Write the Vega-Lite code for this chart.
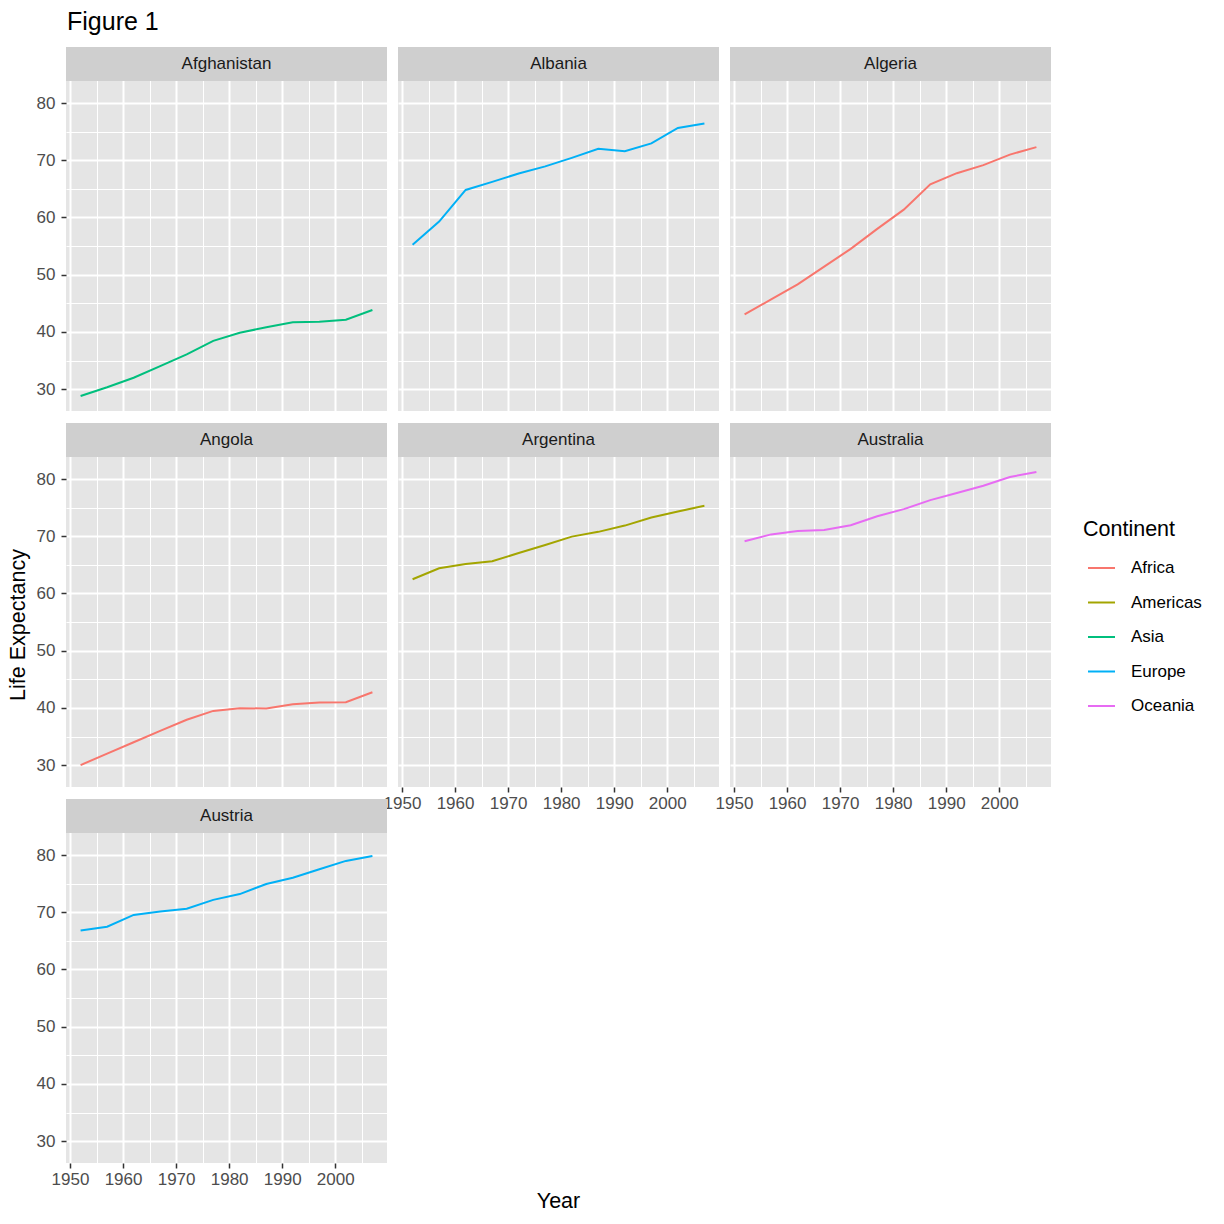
{
  "$schema": "https://vega.github.io/schema/vega-lite/v6.json",
  "padding": {"left": 7, "top": 10, "right": 0, "bottom": 0},
  "title": {"text": "Figure 1", "anchor": "start", "fontSize": 25, "fontWeight": "normal", "font": "Liberation Sans", "color": "#000000", "dx": 60, "offset": 12},
  "config": {
    "font": "Liberation Sans",
    "view": {"stroke": null},
    "axis": {"gridColor": "#FFFFFF", "domain": false, "tickColor": "#333333", "tickSize": 5, "tickWidth": 1.5, "labelFontSize": 17, "labelColor": "#4D4D4D", "labelFlush": false, "labelOverlap": false},
    "axisX": {"labelPadding": 3},
    "axisY": {"labelPadding": 6},
    "legend": {"titleFontWeight": "normal"}
  },
  "datasets": {
    "gap": [
      {"country": "Afghanistan", "continent": "Asia", "year": 1952, "lifeExp": 28.801},
      {"country": "Afghanistan", "continent": "Asia", "year": 1957, "lifeExp": 30.332},
      {"country": "Afghanistan", "continent": "Asia", "year": 1962, "lifeExp": 31.997},
      {"country": "Afghanistan", "continent": "Asia", "year": 1967, "lifeExp": 34.02},
      {"country": "Afghanistan", "continent": "Asia", "year": 1972, "lifeExp": 36.088},
      {"country": "Afghanistan", "continent": "Asia", "year": 1977, "lifeExp": 38.438},
      {"country": "Afghanistan", "continent": "Asia", "year": 1982, "lifeExp": 39.854},
      {"country": "Afghanistan", "continent": "Asia", "year": 1987, "lifeExp": 40.822},
      {"country": "Afghanistan", "continent": "Asia", "year": 1992, "lifeExp": 41.674},
      {"country": "Afghanistan", "continent": "Asia", "year": 1997, "lifeExp": 41.763},
      {"country": "Afghanistan", "continent": "Asia", "year": 2002, "lifeExp": 42.129},
      {"country": "Afghanistan", "continent": "Asia", "year": 2007, "lifeExp": 43.828},
      {"country": "Albania", "continent": "Europe", "year": 1952, "lifeExp": 55.23},
      {"country": "Albania", "continent": "Europe", "year": 1957, "lifeExp": 59.28},
      {"country": "Albania", "continent": "Europe", "year": 1962, "lifeExp": 64.82},
      {"country": "Albania", "continent": "Europe", "year": 1967, "lifeExp": 66.22},
      {"country": "Albania", "continent": "Europe", "year": 1972, "lifeExp": 67.69},
      {"country": "Albania", "continent": "Europe", "year": 1977, "lifeExp": 68.93},
      {"country": "Albania", "continent": "Europe", "year": 1982, "lifeExp": 70.42},
      {"country": "Albania", "continent": "Europe", "year": 1987, "lifeExp": 72.0},
      {"country": "Albania", "continent": "Europe", "year": 1992, "lifeExp": 71.581},
      {"country": "Albania", "continent": "Europe", "year": 1997, "lifeExp": 72.95},
      {"country": "Albania", "continent": "Europe", "year": 2002, "lifeExp": 75.651},
      {"country": "Albania", "continent": "Europe", "year": 2007, "lifeExp": 76.423},
      {"country": "Algeria", "continent": "Africa", "year": 1952, "lifeExp": 43.077},
      {"country": "Algeria", "continent": "Africa", "year": 1957, "lifeExp": 45.685},
      {"country": "Algeria", "continent": "Africa", "year": 1962, "lifeExp": 48.303},
      {"country": "Algeria", "continent": "Africa", "year": 1967, "lifeExp": 51.407},
      {"country": "Algeria", "continent": "Africa", "year": 1972, "lifeExp": 54.518},
      {"country": "Algeria", "continent": "Africa", "year": 1977, "lifeExp": 58.014},
      {"country": "Algeria", "continent": "Africa", "year": 1982, "lifeExp": 61.368},
      {"country": "Algeria", "continent": "Africa", "year": 1987, "lifeExp": 65.799},
      {"country": "Algeria", "continent": "Africa", "year": 1992, "lifeExp": 67.744},
      {"country": "Algeria", "continent": "Africa", "year": 1997, "lifeExp": 69.152},
      {"country": "Algeria", "continent": "Africa", "year": 2002, "lifeExp": 70.994},
      {"country": "Algeria", "continent": "Africa", "year": 2007, "lifeExp": 72.301},
      {"country": "Angola", "continent": "Africa", "year": 1952, "lifeExp": 30.015},
      {"country": "Angola", "continent": "Africa", "year": 1957, "lifeExp": 31.999},
      {"country": "Angola", "continent": "Africa", "year": 1962, "lifeExp": 34.0},
      {"country": "Angola", "continent": "Africa", "year": 1967, "lifeExp": 35.985},
      {"country": "Angola", "continent": "Africa", "year": 1972, "lifeExp": 37.928},
      {"country": "Angola", "continent": "Africa", "year": 1977, "lifeExp": 39.483},
      {"country": "Angola", "continent": "Africa", "year": 1982, "lifeExp": 39.942},
      {"country": "Angola", "continent": "Africa", "year": 1987, "lifeExp": 39.906},
      {"country": "Angola", "continent": "Africa", "year": 1992, "lifeExp": 40.647},
      {"country": "Angola", "continent": "Africa", "year": 1997, "lifeExp": 40.963},
      {"country": "Angola", "continent": "Africa", "year": 2002, "lifeExp": 41.003},
      {"country": "Angola", "continent": "Africa", "year": 2007, "lifeExp": 42.731},
      {"country": "Argentina", "continent": "Americas", "year": 1952, "lifeExp": 62.485},
      {"country": "Argentina", "continent": "Americas", "year": 1957, "lifeExp": 64.399},
      {"country": "Argentina", "continent": "Americas", "year": 1962, "lifeExp": 65.142},
      {"country": "Argentina", "continent": "Americas", "year": 1967, "lifeExp": 65.634},
      {"country": "Argentina", "continent": "Americas", "year": 1972, "lifeExp": 67.065},
      {"country": "Argentina", "continent": "Americas", "year": 1977, "lifeExp": 68.481},
      {"country": "Argentina", "continent": "Americas", "year": 1982, "lifeExp": 69.942},
      {"country": "Argentina", "continent": "Americas", "year": 1987, "lifeExp": 70.774},
      {"country": "Argentina", "continent": "Americas", "year": 1992, "lifeExp": 71.868},
      {"country": "Argentina", "continent": "Americas", "year": 1997, "lifeExp": 73.275},
      {"country": "Argentina", "continent": "Americas", "year": 2002, "lifeExp": 74.34},
      {"country": "Argentina", "continent": "Americas", "year": 2007, "lifeExp": 75.32},
      {"country": "Australia", "continent": "Oceania", "year": 1952, "lifeExp": 69.12},
      {"country": "Australia", "continent": "Oceania", "year": 1957, "lifeExp": 70.33},
      {"country": "Australia", "continent": "Oceania", "year": 1962, "lifeExp": 70.93},
      {"country": "Australia", "continent": "Oceania", "year": 1967, "lifeExp": 71.1},
      {"country": "Australia", "continent": "Oceania", "year": 1972, "lifeExp": 71.93},
      {"country": "Australia", "continent": "Oceania", "year": 1977, "lifeExp": 73.49},
      {"country": "Australia", "continent": "Oceania", "year": 1982, "lifeExp": 74.74},
      {"country": "Australia", "continent": "Oceania", "year": 1987, "lifeExp": 76.32},
      {"country": "Australia", "continent": "Oceania", "year": 1992, "lifeExp": 77.56},
      {"country": "Australia", "continent": "Oceania", "year": 1997, "lifeExp": 78.83},
      {"country": "Australia", "continent": "Oceania", "year": 2002, "lifeExp": 80.37},
      {"country": "Australia", "continent": "Oceania", "year": 2007, "lifeExp": 81.235},
      {"country": "Austria", "continent": "Europe", "year": 1952, "lifeExp": 66.8},
      {"country": "Austria", "continent": "Europe", "year": 1957, "lifeExp": 67.48},
      {"country": "Austria", "continent": "Europe", "year": 1962, "lifeExp": 69.54},
      {"country": "Austria", "continent": "Europe", "year": 1967, "lifeExp": 70.14},
      {"country": "Austria", "continent": "Europe", "year": 1972, "lifeExp": 70.63},
      {"country": "Austria", "continent": "Europe", "year": 1977, "lifeExp": 72.17},
      {"country": "Austria", "continent": "Europe", "year": 1982, "lifeExp": 73.18},
      {"country": "Austria", "continent": "Europe", "year": 1987, "lifeExp": 74.94},
      {"country": "Austria", "continent": "Europe", "year": 1992, "lifeExp": 76.04},
      {"country": "Austria", "continent": "Europe", "year": 1997, "lifeExp": 77.51},
      {"country": "Austria", "continent": "Europe", "year": 2002, "lifeExp": 78.98},
      {"country": "Austria", "continent": "Europe", "year": 2007, "lifeExp": 79.829}
    ],
    "ylab": [{"label": "Life Expectancy"}],
    "xlab": [{"label": "Year"}]
  },
  "spacing": 4,
  "vconcat": [
    {
      "spacing": 5,
      "hconcat": [
        {
          "data": {"name": "ylab"},
          "width": 24,
          "height": 1116,
          "view": {"fill": null, "stroke": null},
          "mark": {"type": "text", "angle": 270, "fontSize": 21.5, "color": "#000000", "align": "center", "baseline": "middle", "dx": -20},
          "encoding": {"text": {"field": "label", "type": "nominal"}}
        },
        {
          "data": {"name": "gap"},
          "columns": 3,
          "bounds": "flush",
          "spacing": {"row": 12, "column": 11},
          "concat": [
            {
              "transform": [{"filter": {"field": "country", "equal": "Afghanistan"}}],
              "width": 321, "height": 364,
              "view": {"fill": "#E5E5E5", "stroke": null},
              "resolve": {"axis": {"x": "independent", "y": "independent"}},
              "layer": [
                {"mark": {"type": "line", "strokeWidth": 2},
                 "encoding": {
                   "x": {"field": "year", "type": "quantitative", "scale": {"domain": [1949.25, 2009.75], "nice": false, "zero": false}, "axis": {"values": [1950, 1960, 1970, 1980, 1990, 2000], "title": null, "grid": true, "gridWidth": 2, "labels": false, "ticks": false}},
                   "y": {"field": "lifeExp", "type": "quantitative", "scale": {"domain": [26.1793, 89.7993], "nice": false, "zero": false}, "axis": {"values": [30, 40, 50, 60, 70, 80], "title": null, "grid": true, "gridWidth": 2}},
                   "color": {"field": "continent", "type": "nominal", "scale": {"domain": ["Africa", "Americas", "Asia", "Europe", "Oceania"], "range": ["#F8766D", "#A3A500", "#00BF7D", "#00B0F6", "#E76BF3"]}, "legend": {"title": "Continent", "orient": "none", "legendX": 1076, "legendY": 472, "titleFontSize": 21.5, "titleColor": "#000000", "titleFontWeight": "normal", "titlePadding": 13, "labelFontSize": 17, "labelColor": "#000000", "labelOffset": 15, "symbolType": "stroke", "symbolSize": 729, "symbolStrokeWidth": 2, "symbolOffset": 4, "rowPadding": 11.5, "padding": 0}}
                 }},
                {"transform": [{"aggregate": [{"op": "count", "as": "n"}], "groupby": ["country"]}],
                 "mark": {"type": "rect", "color": "#CFCFCF"},
                 "encoding": {
                   "x": {"datum": 1949.25, "type": "quantitative", "axis": {"values": [1955, 1965, 1975, 1985, 1995, 2005], "title": null, "grid": true, "gridWidth": 1, "labels": false, "ticks": false}},
                   "x2": {"datum": 2009.75},
                   "y": {"datum": 83.8567, "type": "quantitative", "axis": {"values": [35, 45, 55, 65, 75], "title": null, "grid": true, "gridWidth": 1, "labels": false, "ticks": false}},
                   "y2": {"datum": 89.7993}
                 }},
                {"transform": [{"aggregate": [{"op": "count", "as": "n"}], "groupby": ["country"]}],
                 "mark": {"type": "text", "fontSize": 17, "color": "#1A1A1A", "align": "center", "baseline": "middle"},
                 "encoding": {
                   "x": {"datum": 1979.5, "type": "quantitative", "axis": null},
                   "y": {"datum": 86.83, "type": "quantitative", "axis": null},
                   "text": {"field": "country", "type": "nominal"}
                 }}
              ]
            },
            {
              "transform": [{"filter": {"field": "country", "equal": "Albania"}}],
              "width": 321, "height": 364,
              "view": {"fill": "#E5E5E5", "stroke": null},
              "resolve": {"axis": {"x": "independent", "y": "independent"}},
              "layer": [
                {"mark": {"type": "line", "strokeWidth": 2},
                 "encoding": {
                   "x": {"field": "year", "type": "quantitative", "scale": {"domain": [1949.25, 2009.75], "nice": false, "zero": false}, "axis": {"values": [1950, 1960, 1970, 1980, 1990, 2000], "title": null, "grid": true, "gridWidth": 2, "labels": false, "ticks": false}},
                   "y": {"field": "lifeExp", "type": "quantitative", "scale": {"domain": [26.1793, 89.7993], "nice": false, "zero": false}, "axis": {"values": [30, 40, 50, 60, 70, 80], "title": null, "grid": true, "gridWidth": 2, "labels": false, "ticks": false}},
                   "color": {"field": "continent", "type": "nominal", "scale": {"domain": ["Africa", "Americas", "Asia", "Europe", "Oceania"], "range": ["#F8766D", "#A3A500", "#00BF7D", "#00B0F6", "#E76BF3"]}, "legend": {"title": "Continent", "orient": "none", "legendX": 1076, "legendY": 472, "titleFontSize": 21.5, "titleColor": "#000000", "titleFontWeight": "normal", "titlePadding": 13, "labelFontSize": 17, "labelColor": "#000000", "labelOffset": 15, "symbolType": "stroke", "symbolSize": 729, "symbolStrokeWidth": 2, "symbolOffset": 4, "rowPadding": 11.5, "padding": 0}}
                 }},
                {"transform": [{"aggregate": [{"op": "count", "as": "n"}], "groupby": ["country"]}],
                 "mark": {"type": "rect", "color": "#CFCFCF"},
                 "encoding": {
                   "x": {"datum": 1949.25, "type": "quantitative", "axis": {"values": [1955, 1965, 1975, 1985, 1995, 2005], "title": null, "grid": true, "gridWidth": 1, "labels": false, "ticks": false}},
                   "x2": {"datum": 2009.75},
                   "y": {"datum": 83.8567, "type": "quantitative", "axis": {"values": [35, 45, 55, 65, 75], "title": null, "grid": true, "gridWidth": 1, "labels": false, "ticks": false}},
                   "y2": {"datum": 89.7993}
                 }},
                {"transform": [{"aggregate": [{"op": "count", "as": "n"}], "groupby": ["country"]}],
                 "mark": {"type": "text", "fontSize": 17, "color": "#1A1A1A", "align": "center", "baseline": "middle"},
                 "encoding": {
                   "x": {"datum": 1979.5, "type": "quantitative", "axis": null},
                   "y": {"datum": 86.83, "type": "quantitative", "axis": null},
                   "text": {"field": "country", "type": "nominal"}
                 }}
              ]
            },
            {
              "transform": [{"filter": {"field": "country", "equal": "Algeria"}}],
              "width": 321, "height": 364,
              "view": {"fill": "#E5E5E5", "stroke": null},
              "resolve": {"axis": {"x": "independent", "y": "independent"}},
              "layer": [
                {"mark": {"type": "line", "strokeWidth": 2},
                 "encoding": {
                   "x": {"field": "year", "type": "quantitative", "scale": {"domain": [1949.25, 2009.75], "nice": false, "zero": false}, "axis": {"values": [1950, 1960, 1970, 1980, 1990, 2000], "title": null, "grid": true, "gridWidth": 2, "labels": false, "ticks": false}},
                   "y": {"field": "lifeExp", "type": "quantitative", "scale": {"domain": [26.1793, 89.7993], "nice": false, "zero": false}, "axis": {"values": [30, 40, 50, 60, 70, 80], "title": null, "grid": true, "gridWidth": 2, "labels": false, "ticks": false}},
                   "color": {"field": "continent", "type": "nominal", "scale": {"domain": ["Africa", "Americas", "Asia", "Europe", "Oceania"], "range": ["#F8766D", "#A3A500", "#00BF7D", "#00B0F6", "#E76BF3"]}, "legend": {"title": "Continent", "orient": "none", "legendX": 1076, "legendY": 472, "titleFontSize": 21.5, "titleColor": "#000000", "titleFontWeight": "normal", "titlePadding": 13, "labelFontSize": 17, "labelColor": "#000000", "labelOffset": 15, "symbolType": "stroke", "symbolSize": 729, "symbolStrokeWidth": 2, "symbolOffset": 4, "rowPadding": 11.5, "padding": 0}}
                 }},
                {"transform": [{"aggregate": [{"op": "count", "as": "n"}], "groupby": ["country"]}],
                 "mark": {"type": "rect", "color": "#CFCFCF"},
                 "encoding": {
                   "x": {"datum": 1949.25, "type": "quantitative", "axis": {"values": [1955, 1965, 1975, 1985, 1995, 2005], "title": null, "grid": true, "gridWidth": 1, "labels": false, "ticks": false}},
                   "x2": {"datum": 2009.75},
                   "y": {"datum": 83.8567, "type": "quantitative", "axis": {"values": [35, 45, 55, 65, 75], "title": null, "grid": true, "gridWidth": 1, "labels": false, "ticks": false}},
                   "y2": {"datum": 89.7993}
                 }},
                {"transform": [{"aggregate": [{"op": "count", "as": "n"}], "groupby": ["country"]}],
                 "mark": {"type": "text", "fontSize": 17, "color": "#1A1A1A", "align": "center", "baseline": "middle"},
                 "encoding": {
                   "x": {"datum": 1979.5, "type": "quantitative", "axis": null},
                   "y": {"datum": 86.83, "type": "quantitative", "axis": null},
                   "text": {"field": "country", "type": "nominal"}
                 }}
              ]
            },
            {
              "transform": [{"filter": {"field": "country", "equal": "Angola"}}],
              "width": 321, "height": 364,
              "view": {"fill": "#E5E5E5", "stroke": null},
              "resolve": {"axis": {"x": "independent", "y": "independent"}},
              "layer": [
                {"mark": {"type": "line", "strokeWidth": 2},
                 "encoding": {
                   "x": {"field": "year", "type": "quantitative", "scale": {"domain": [1949.25, 2009.75], "nice": false, "zero": false}, "axis": {"values": [1950, 1960, 1970, 1980, 1990, 2000], "title": null, "grid": true, "gridWidth": 2, "labels": false, "ticks": false}},
                   "y": {"field": "lifeExp", "type": "quantitative", "scale": {"domain": [26.1793, 89.7993], "nice": false, "zero": false}, "axis": {"values": [30, 40, 50, 60, 70, 80], "title": null, "grid": true, "gridWidth": 2}},
                   "color": {"field": "continent", "type": "nominal", "scale": {"domain": ["Africa", "Americas", "Asia", "Europe", "Oceania"], "range": ["#F8766D", "#A3A500", "#00BF7D", "#00B0F6", "#E76BF3"]}, "legend": {"title": "Continent", "orient": "none", "legendX": 1076, "legendY": 472, "titleFontSize": 21.5, "titleColor": "#000000", "titleFontWeight": "normal", "titlePadding": 13, "labelFontSize": 17, "labelColor": "#000000", "labelOffset": 15, "symbolType": "stroke", "symbolSize": 729, "symbolStrokeWidth": 2, "symbolOffset": 4, "rowPadding": 11.5, "padding": 0}}
                 }},
                {"transform": [{"aggregate": [{"op": "count", "as": "n"}], "groupby": ["country"]}],
                 "mark": {"type": "rect", "color": "#CFCFCF"},
                 "encoding": {
                   "x": {"datum": 1949.25, "type": "quantitative", "axis": {"values": [1955, 1965, 1975, 1985, 1995, 2005], "title": null, "grid": true, "gridWidth": 1, "labels": false, "ticks": false}},
                   "x2": {"datum": 2009.75},
                   "y": {"datum": 83.8567, "type": "quantitative", "axis": {"values": [35, 45, 55, 65, 75], "title": null, "grid": true, "gridWidth": 1, "labels": false, "ticks": false}},
                   "y2": {"datum": 89.7993}
                 }},
                {"transform": [{"aggregate": [{"op": "count", "as": "n"}], "groupby": ["country"]}],
                 "mark": {"type": "text", "fontSize": 17, "color": "#1A1A1A", "align": "center", "baseline": "middle"},
                 "encoding": {
                   "x": {"datum": 1979.5, "type": "quantitative", "axis": null},
                   "y": {"datum": 86.83, "type": "quantitative", "axis": null},
                   "text": {"field": "country", "type": "nominal"}
                 }}
              ]
            },
            {
              "transform": [{"filter": {"field": "country", "equal": "Argentina"}}],
              "width": 321, "height": 364,
              "view": {"fill": "#E5E5E5", "stroke": null},
              "resolve": {"axis": {"x": "independent", "y": "independent"}},
              "layer": [
                {"mark": {"type": "line", "strokeWidth": 2},
                 "encoding": {
                   "x": {"field": "year", "type": "quantitative", "scale": {"domain": [1949.25, 2009.75], "nice": false, "zero": false}, "axis": {"values": [1950, 1960, 1970, 1980, 1990, 2000], "title": null, "grid": true, "gridWidth": 2, "format": "d"}},
                   "y": {"field": "lifeExp", "type": "quantitative", "scale": {"domain": [26.1793, 89.7993], "nice": false, "zero": false}, "axis": {"values": [30, 40, 50, 60, 70, 80], "title": null, "grid": true, "gridWidth": 2, "labels": false, "ticks": false}},
                   "color": {"field": "continent", "type": "nominal", "scale": {"domain": ["Africa", "Americas", "Asia", "Europe", "Oceania"], "range": ["#F8766D", "#A3A500", "#00BF7D", "#00B0F6", "#E76BF3"]}, "legend": {"title": "Continent", "orient": "none", "legendX": 1076, "legendY": 472, "titleFontSize": 21.5, "titleColor": "#000000", "titleFontWeight": "normal", "titlePadding": 13, "labelFontSize": 17, "labelColor": "#000000", "labelOffset": 15, "symbolType": "stroke", "symbolSize": 729, "symbolStrokeWidth": 2, "symbolOffset": 4, "rowPadding": 11.5, "padding": 0}}
                 }},
                {"transform": [{"aggregate": [{"op": "count", "as": "n"}], "groupby": ["country"]}],
                 "mark": {"type": "rect", "color": "#CFCFCF"},
                 "encoding": {
                   "x": {"datum": 1949.25, "type": "quantitative", "axis": {"values": [1955, 1965, 1975, 1985, 1995, 2005], "title": null, "grid": true, "gridWidth": 1, "labels": false, "ticks": false}},
                   "x2": {"datum": 2009.75},
                   "y": {"datum": 83.8567, "type": "quantitative", "axis": {"values": [35, 45, 55, 65, 75], "title": null, "grid": true, "gridWidth": 1, "labels": false, "ticks": false}},
                   "y2": {"datum": 89.7993}
                 }},
                {"transform": [{"aggregate": [{"op": "count", "as": "n"}], "groupby": ["country"]}],
                 "mark": {"type": "text", "fontSize": 17, "color": "#1A1A1A", "align": "center", "baseline": "middle"},
                 "encoding": {
                   "x": {"datum": 1979.5, "type": "quantitative", "axis": null},
                   "y": {"datum": 86.83, "type": "quantitative", "axis": null},
                   "text": {"field": "country", "type": "nominal"}
                 }}
              ]
            },
            {
              "transform": [{"filter": {"field": "country", "equal": "Australia"}}],
              "width": 321, "height": 364,
              "view": {"fill": "#E5E5E5", "stroke": null},
              "resolve": {"axis": {"x": "independent", "y": "independent"}},
              "layer": [
                {"mark": {"type": "line", "strokeWidth": 2},
                 "encoding": {
                   "x": {"field": "year", "type": "quantitative", "scale": {"domain": [1949.25, 2009.75], "nice": false, "zero": false}, "axis": {"values": [1950, 1960, 1970, 1980, 1990, 2000], "title": null, "grid": true, "gridWidth": 2, "format": "d"}},
                   "y": {"field": "lifeExp", "type": "quantitative", "scale": {"domain": [26.1793, 89.7993], "nice": false, "zero": false}, "axis": {"values": [30, 40, 50, 60, 70, 80], "title": null, "grid": true, "gridWidth": 2, "labels": false, "ticks": false}},
                   "color": {"field": "continent", "type": "nominal", "scale": {"domain": ["Africa", "Americas", "Asia", "Europe", "Oceania"], "range": ["#F8766D", "#A3A500", "#00BF7D", "#00B0F6", "#E76BF3"]}, "legend": {"title": "Continent", "orient": "none", "legendX": 1076, "legendY": 472, "titleFontSize": 21.5, "titleColor": "#000000", "titleFontWeight": "normal", "titlePadding": 13, "labelFontSize": 17, "labelColor": "#000000", "labelOffset": 15, "symbolType": "stroke", "symbolSize": 729, "symbolStrokeWidth": 2, "symbolOffset": 4, "rowPadding": 11.5, "padding": 0}}
                 }},
                {"transform": [{"aggregate": [{"op": "count", "as": "n"}], "groupby": ["country"]}],
                 "mark": {"type": "rect", "color": "#CFCFCF"},
                 "encoding": {
                   "x": {"datum": 1949.25, "type": "quantitative", "axis": {"values": [1955, 1965, 1975, 1985, 1995, 2005], "title": null, "grid": true, "gridWidth": 1, "labels": false, "ticks": false}},
                   "x2": {"datum": 2009.75},
                   "y": {"datum": 83.8567, "type": "quantitative", "axis": {"values": [35, 45, 55, 65, 75], "title": null, "grid": true, "gridWidth": 1, "labels": false, "ticks": false}},
                   "y2": {"datum": 89.7993}
                 }},
                {"transform": [{"aggregate": [{"op": "count", "as": "n"}], "groupby": ["country"]}],
                 "mark": {"type": "text", "fontSize": 17, "color": "#1A1A1A", "align": "center", "baseline": "middle"},
                 "encoding": {
                   "x": {"datum": 1979.5, "type": "quantitative", "axis": null},
                   "y": {"datum": 86.83, "type": "quantitative", "axis": null},
                   "text": {"field": "country", "type": "nominal"}
                 }}
              ]
            },
            {
              "transform": [{"filter": {"field": "country", "equal": "Austria"}}],
              "width": 321, "height": 364,
              "view": {"fill": "#E5E5E5", "stroke": null},
              "resolve": {"axis": {"x": "independent", "y": "independent"}},
              "layer": [
                {"mark": {"type": "line", "strokeWidth": 2},
                 "encoding": {
                   "x": {"field": "year", "type": "quantitative", "scale": {"domain": [1949.25, 2009.75], "nice": false, "zero": false}, "axis": {"values": [1950, 1960, 1970, 1980, 1990, 2000], "title": null, "grid": true, "gridWidth": 2, "format": "d"}},
                   "y": {"field": "lifeExp", "type": "quantitative", "scale": {"domain": [26.1793, 89.7993], "nice": false, "zero": false}, "axis": {"values": [30, 40, 50, 60, 70, 80], "title": null, "grid": true, "gridWidth": 2}},
                   "color": {"field": "continent", "type": "nominal", "scale": {"domain": ["Africa", "Americas", "Asia", "Europe", "Oceania"], "range": ["#F8766D", "#A3A500", "#00BF7D", "#00B0F6", "#E76BF3"]}, "legend": {"title": "Continent", "orient": "none", "legendX": 1076, "legendY": 472, "titleFontSize": 21.5, "titleColor": "#000000", "titleFontWeight": "normal", "titlePadding": 13, "labelFontSize": 17, "labelColor": "#000000", "labelOffset": 15, "symbolType": "stroke", "symbolSize": 729, "symbolStrokeWidth": 2, "symbolOffset": 4, "rowPadding": 11.5, "padding": 0}}
                 }},
                {"transform": [{"aggregate": [{"op": "count", "as": "n"}], "groupby": ["country"]}],
                 "mark": {"type": "rect", "color": "#CFCFCF"},
                 "encoding": {
                   "x": {"datum": 1949.25, "type": "quantitative", "axis": {"values": [1955, 1965, 1975, 1985, 1995, 2005], "title": null, "grid": true, "gridWidth": 1, "labels": false, "ticks": false}},
                   "x2": {"datum": 2009.75},
                   "y": {"datum": 83.8567, "type": "quantitative", "axis": {"values": [35, 45, 55, 65, 75], "title": null, "grid": true, "gridWidth": 1, "labels": false, "ticks": false}},
                   "y2": {"datum": 89.7993}
                 }},
                {"transform": [{"aggregate": [{"op": "count", "as": "n"}], "groupby": ["country"]}],
                 "mark": {"type": "text", "fontSize": 17, "color": "#1A1A1A", "align": "center", "baseline": "middle"},
                 "encoding": {
                   "x": {"datum": 1979.5, "type": "quantitative", "axis": null},
                   "y": {"datum": 86.83, "type": "quantitative", "axis": null},
                   "text": {"field": "country", "type": "nominal"}
                 }}
              ]
            }
          ]
        }
      ]
    },
    {
      "data": {"name": "xlab"},
      "width": 1103,
      "height": 20,
      "view": {"fill": null, "stroke": null},
      "mark": {"type": "text", "fontSize": 21.5, "color": "#000000", "align": "center", "baseline": "middle"},
      "encoding": {"text": {"field": "label", "type": "nominal"}}
    }
  ]
}
